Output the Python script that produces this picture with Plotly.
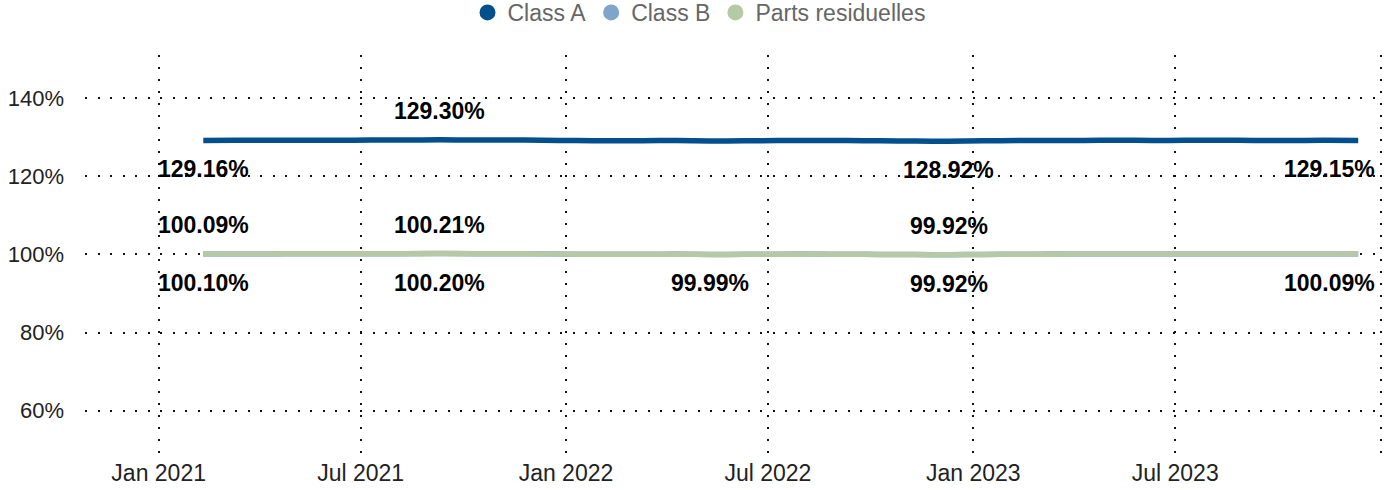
import plotly.graph_objects as go

# ---- data -------------------------------------------------------------
dates = [
    "2021-02-10", "2021-03-10", "2021-04-10", "2021-05-10", "2021-06-10", "2021-07-10",
    "2021-08-10", "2021-09-10", "2021-10-10", "2021-11-10", "2021-12-10",
    "2022-01-10", "2022-02-10", "2022-03-10", "2022-04-10", "2022-05-10", "2022-06-10",
    "2022-07-10", "2022-08-10", "2022-09-10", "2022-10-10", "2022-11-10", "2022-12-10",
    "2023-01-10", "2023-02-10", "2023-03-10", "2023-04-10", "2023-05-10", "2023-06-10",
    "2023-07-10", "2023-08-10", "2023-09-10", "2023-10-10", "2023-11-10", "2023-12-12",
]

class_a = [
    129.16, 129.18, 129.20, 129.22, 129.21, 129.24, 129.27, 129.30, 129.26, 129.24, 129.22,
    129.10, 129.05, 129.08, 129.12, 129.02, 129.06, 129.12, 129.15, 129.10, 129.04, 128.98, 128.92,
    129.05, 129.10, 129.14, 129.16, 129.18, 129.15, 129.17, 129.19, 129.16, 129.14, 129.17, 129.15,
]

class_b = [
    100.09, 100.11, 100.13, 100.15, 100.14, 100.17, 100.19, 100.21, 100.18, 100.16, 100.14,
    100.06, 100.02, 100.04, 100.07, 99.99, 100.02, 100.06, 100.08, 100.04, 99.99, 99.95, 99.92,
    100.00, 100.04, 100.07, 100.09, 100.11, 100.08, 100.10, 100.12, 100.10, 100.08, 100.10, 100.09,
]

parts_residuelles = [
    100.10, 100.11, 100.13, 100.14, 100.14, 100.16, 100.18, 100.20, 100.17, 100.15, 100.13,
    100.06, 100.03, 100.04, 100.06, 99.99, 100.02, 100.05, 100.07, 100.03, 99.98, 99.95, 99.92,
    99.99, 100.03, 100.06, 100.08, 100.10, 100.07, 100.09, 100.11, 100.09, 100.07, 100.10, 100.09,
]

series_names = ["Class A", "Class B", "Parts residuelles"]

# indices of labelled points per series
labels_a = [0, 7, 22, 34]
labels_b = [0, 7, 22]
labels_p = [0, 7, 15, 22, 34]

y_tick_step = 20

# ---- style ------------------------------------------------------------
colors = {"Class A": "#01508E", "Class B": "#7FA6C8", "Parts residuelles": "#B5C9A6"}
# label placement: +1 above, -1 below (per labelled point)
place_a = [-1, 1, -1, -1]
place_b = [1, 1, 1]
place_p = [-1, -1, -1, -1, -1]

FONT = "Arial, Liberation Sans, sans-serif"

fig = go.Figure()

# lines (Class B under Parts residuelles)
for name, vals in [("Class B", class_b), ("Parts residuelles", parts_residuelles), ("Class A", class_a)]:
    fig.add_trace(go.Scatter(
        x=dates, y=vals, mode="lines", name=name, showlegend=False,
        line=dict(color=colors[name], width=5.5, shape="spline", smoothing=0.6),
        hoverinfo="skip",
    ))

# legend entries
for name in series_names:
    fig.add_trace(go.Scatter(
        x=[None], y=[None], mode="markers", name=name,
        marker=dict(size=16, color=colors[name], symbol="circle"),
    ))

# data labels
last = len(dates) - 1
for vals, idxs, places in [(class_a, labels_a, place_a), (class_b, labels_b, place_b),
                           (parts_residuelles, labels_p, place_p)]:
    for i, p in zip(idxs, places):
        is_last = (i == last)
        fig.add_annotation(
            x=dates[i], y=vals[i], text=f"{vals[i]:.2f}%", showarrow=False,
            xanchor="right" if is_last else "center",
            xshift=19 if is_last else 0,
            yanchor="middle", yshift=29 * p,
            font=dict(family=FONT, size=23, color="#000000", weight="bold"),
        )

fig.update_layout(
    width=1385, height=490,
    margin=dict(l=85, r=0, t=55, b=37, autoexpand=False),
    paper_bgcolor="white", plot_bgcolor="white",
    font=dict(family=FONT),
    showlegend=True,
    legend=dict(
        orientation="h", xref="container", yref="paper",
        x=0.5047, xanchor="center", y=1.1068, yanchor="middle",
        font=dict(family=FONT, size=23, color="#666666"),
        itemsizing="trace", tracegroupgap=0,
        bgcolor="rgba(0,0,0,0)",
    ),
    xaxis=dict(
        type="date", range=["2020-10-27", "2024-01-05"],
        dtick="M6", tick0="2021-01-01", tickformat="%b %Y",
        showgrid=True, gridcolor="#111111", gridwidth=2, griddash="2px,10px",
        zeroline=False, showline=False, ticks="",
        tickfont=dict(family=FONT, size=23, color="#222222"),
        ticklabelstandoff=4,
    ),
    yaxis=dict(
        range=[49.2, 151], tickmode="linear", tick0=0, dtick=y_tick_step, ticksuffix="%",
        showgrid=True, gridcolor="#111111", gridwidth=2, griddash="2px,10.5px",
        zeroline=False, showline=False, ticks="",
        tickfont=dict(family=FONT, size=22, color="#222222"),
        ticklabelstandoff=20,
    ),
)

fig.write_html(
    "out.html",
    config={"displayModeBar": False},
    post_script="document.body.style.margin='0';",
)
